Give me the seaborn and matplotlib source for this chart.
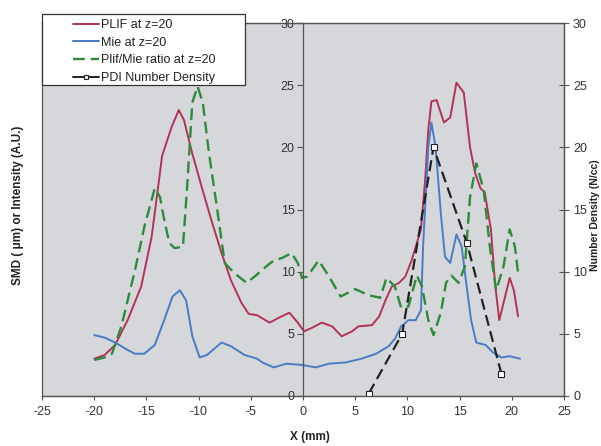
import numpy as np
import pandas as pd
import seaborn as sns
import matplotlib
matplotlib.use("Agg")
import matplotlib.pyplot as plt
from matplotlib.patches import Rectangle
from matplotlib.lines import Line2D

# ---------------- data ----------------
plif_x = [-20.0, -19.0, -18.0, -16.8, -15.5, -14.5, -14.0, -13.5, -12.6, -11.9, -11.4, -10.7,
          -9.7, -8.8, -7.8, -6.9, -5.9, -5.2, -4.4, -3.2, -2.3, -1.3, -0.5, 0.1, 0.9, 1.8,
          2.8, 3.7, 4.7, 5.3, 6.6, 7.3, 7.9, 8.5, 9.2, 9.8, 10.4, 11.3, 11.7, 12.0, 12.3,
          12.8, 13.5, 14.1, 14.7, 15.4, 16.0, 16.5, 17.0, 17.4, 18.0, 18.4, 18.8, 19.3,
          19.8, 20.2, 20.6]
plif_y = [3.0, 3.3, 4.1, 6.1, 8.8, 12.8, 16.0, 19.3, 21.6, 23.0, 22.2, 19.8,
          16.8, 14.2, 11.5, 9.3, 7.5, 6.6, 6.5, 5.9, 6.3, 6.7, 5.9, 5.2, 5.5, 5.9,
          5.6, 4.8, 5.2, 5.6, 5.7, 6.4, 7.7, 8.8, 9.1, 9.6, 10.9, 13.4, 17.4, 21.4, 23.7,
          23.8, 22.0, 22.4, 25.2, 24.4, 20.0, 17.9, 16.7, 16.4, 13.4, 9.0, 6.1, 7.8,
          9.5, 8.5, 6.4]

mie_x = [-20.0, -19.0, -18.0, -16.8, -16.1, -15.2, -14.2, -13.3, -12.5, -11.8, -11.2, -10.6,
         -9.9, -9.2, -7.8, -6.9, -5.6, -4.4, -3.9, -2.8, -1.6, -0.1, 1.2, 2.5, 4.1, 5.6,
         7.0, 8.2, 8.8, 9.4, 10.1, 10.8, 11.3, 11.5, 12.0, 12.3, 12.7, 13.2, 13.6, 14.1,
         14.7, 15.2, 15.6, 16.1, 16.6, 17.5, 18.2, 19.0, 19.8, 20.8]
mie_y = [4.9, 4.7, 4.3, 3.7, 3.4, 3.4, 4.1, 6.1, 8.0, 8.5, 7.7, 4.8,
         3.1, 3.3, 4.3, 4.0, 3.3, 3.0, 2.7, 2.3, 2.6, 2.5, 2.3, 2.6, 2.7, 3.0,
         3.4, 4.0, 4.6, 5.6, 6.1, 6.1, 6.9, 12.0, 20.0, 22.0, 20.0, 14.7, 11.2, 10.7,
         13.0, 12.0, 9.3, 6.1, 4.3, 4.1, 3.5, 3.1, 3.2, 3.0]

ratio_x = [-20.0, -19.0, -18.3, -17.4, -16.1, -15.2, -14.2, -13.7, -13.3, -12.8, -12.3, -11.5,
           -11.1, -10.6, -10.1, -9.6, -9.0, -8.3, -7.5, -6.6, -5.4, -4.5, -3.7, -2.8, -2.0,
           -1.1, -0.5, -0.1, 0.4, 1.5, 2.5, 3.6, 5.0, 6.3, 7.4, 8.0, 8.8, 9.4, 10.1, 10.9,
           11.4, 12.0, 12.5, 13.2, 13.7, 14.2, 14.9, 15.5, 16.0, 16.6, 17.3, 17.9, 18.5,
           19.2, 19.8, 20.3, 20.6]
ratio_y = [2.9, 3.1, 3.4, 5.6, 10.1, 13.6, 16.7, 16.0, 14.2, 12.3, 11.9, 12.0,
           16.8, 23.6, 24.9, 23.6, 19.5, 15.5, 10.7, 9.9, 9.1, 9.7, 10.3, 10.9, 11.1,
           11.5, 10.7, 9.5, 9.6, 10.9, 9.6, 8.0, 8.6, 8.1, 7.9, 9.5, 8.8, 7.1, 7.2, 9.7,
           8.8, 6.1, 4.9, 6.7, 9.1, 9.7, 9.1, 10.4, 16.0, 18.7, 16.6, 12.0, 8.5,
           10.4, 13.4, 12.0, 9.9]

pdi_x = [6.3, 9.5, 12.5, 15.7, 19.0]
pdi_y = [0.2, 5.0, 20.0, 12.3, 1.8]

x_ticks = [-25, -20, -15, -10, -5, 0, 5, 10, 15, 20, 25]
y_ticks = [0, 5, 10, 15, 20, 25, 30]

labels = ["PLIF at z=20", "Mie at z=20", "Plif/Mie ratio at z=20", "PDI Number Density"]
colors = ["#b23355", "#4a7cc4", "#2e8a3c", "#222222"]

# ---------------- figure ----------------
sns.set_style("white")
plt.rcParams["font.family"] = ["Liberation Sans", "DejaVu Sans"]
plt.rcParams["axes.unicode_minus"] = False

W, H = 601, 446
fig = plt.figure(figsize=(W / 100, H / 100), dpi=100)
ax = fig.add_axes([42 / W, 50 / H, 522 / W, 373 / H])
ax.set_facecolor("#d6d7db")

lw = 1.4
sns.lineplot(x=plif_x, y=plif_y, ax=ax, color=colors[0], lw=lw, sort=False, estimator=None)
sns.lineplot(x=mie_x, y=mie_y, ax=ax, color=colors[1], lw=lw, sort=False, estimator=None)
sns.lineplot(x=ratio_x, y=ratio_y, ax=ax, color=colors[2], lw=lw + 0.3, sort=False,
             estimator=None, linestyle=(0, (5, 2.5)))

ax.set_xlim(-25, 25)
ax.set_ylim(0, 30)
ax.set_xticks(x_ticks)
ax.set_yticks(y_ticks)
ax.spines["left"].set_position(("data", 0))
for s in ["left", "bottom", "top", "right"]:
    ax.spines[s].set_color("#555555")
    ax.spines[s].set_linewidth(0.9)
ax.tick_params(axis="x", direction="out", length=3, width=0.8, pad=4,
               labelsize=9, labelcolor="#333333", color="#555555", bottom=True)
ax.tick_params(axis="y", direction="out", length=4, width=0.8, pad=2,
               labelsize=9, labelcolor="#333333", color="#555555", left=True)
ax.set_xlabel("")
ax.set_ylabel("")

ax2 = ax.twinx()
sns.lineplot(x=pdi_x, y=pdi_y, ax=ax2, color=colors[3], lw=lw + 0.2, sort=False,
             estimator=None, linestyle=(0, (5, 2.5)), marker="s", markersize=4,
             markerfacecolor="white", markeredgecolor="#222222", markeredgewidth=0.8)
ax2.set_ylim(0, 30)
ax2.set_yticks(y_ticks)
ax2.set_ylabel("")
for s in ["left", "bottom", "top", "right"]:
    ax2.spines[s].set_color("#555555")
    ax2.spines[s].set_linewidth(0.9)
ax2.tick_params(axis="y", direction="inout", length=7, width=0.8, pad=3,
                labelsize=9, labelcolor="#333333", color="#555555")

# axis labels
fig.text(310 / W, 1 - 437 / H, "X (mm)", ha="center", va="center",
         fontsize=8.5, fontweight="bold", color="#222222")
fig.text(18 / W, 1 - 205 / H, "SMD ( \u03bcm) or Intensity (A.U.)", rotation=90,
         ha="center", va="center", fontsize=8.5, fontweight="bold", color="#222222")
fig.text(595.5 / W, 1 - 215 / H, "Number Density (N/cc)", rotation=90,
         ha="center", va="center", fontsize=7.5, fontweight="bold", color="#222222")

# legend box
box = Rectangle((42 / W, 1 - 85 / H), (245 - 42) / W, (85 - 14) / H,
                transform=fig.transFigure, facecolor="white", edgecolor="#333333",
                lw=0.9, zorder=4)
fig.patches.append(box)

handles = [
    Line2D([], [], color=colors[0], lw=lw),
    Line2D([], [], color=colors[1], lw=lw),
    Line2D([], [], color=colors[2], lw=lw + 0.3, linestyle=(0, (5, 2.5))),
    Line2D([], [], color=colors[3], lw=lw, marker="s", markersize=3.5,
           markerfacecolor="white", markeredgecolor="#222222", markeredgewidth=0.8),
]
leg = fig.legend(handles, labels, loc="upper left",
                 bbox_to_anchor=(73 / W, 1 - 19 / H), bbox_transform=fig.transFigure,
                 frameon=False, fontsize=9, handlelength=2.1, handletextpad=0.15,
                 labelspacing=0.45, borderpad=0, borderaxespad=0)
leg.set_zorder(5)
for t in leg.get_texts():
    t.set_color("#222222")

fig.savefig("out.png", dpi=100, facecolor="white")
